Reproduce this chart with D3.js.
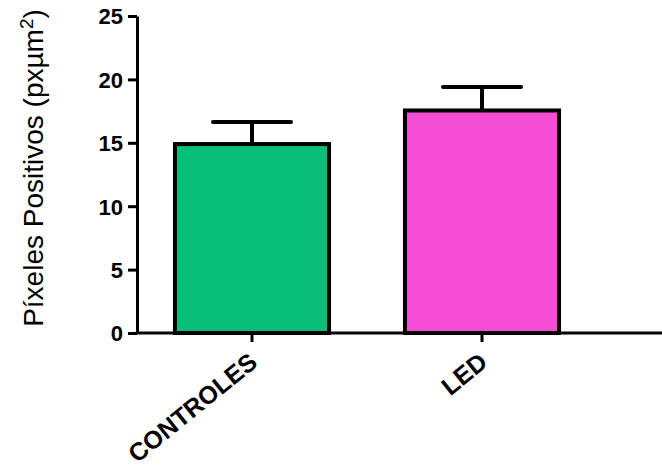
<!DOCTYPE html>
<html>
<head>
<meta charset="utf-8">
<script src="https://cdn.jsdelivr.net/npm/d3@7"></script>
<style>
  html, body { margin: 0; padding: 0; background: #fff; }
  svg { display: block; }
  text { font-family: Arial, "Liberation Sans", sans-serif; }
</style>
</head>
<body>
<div id="chart"></div>
<script>
// Group names, means and SEM of positive pixels
const categories = ["CONTROLES", "LED"];
const means = [14.9, 17.55];
const errors = [1.75, 1.85];
const barColors = ["#08bf7a", "#f54dd6"];
const yTicks = [0, 5, 10, 15, 20, 25];

const width = 662, height = 469;
const x0 = 137, yBottom = 333, yTop = 16;

const svg = d3.select("#chart").append("svg")
  .attr("width", width).attr("height", height);

const x = d3.scaleBand()
  .domain(categories)
  .range([x0, x0 + 460])
  .paddingInner(0.33)
  .paddingOuter(0.165);

const y = d3.scaleLinear().domain([0, 25]).range([yBottom, yTop]);

// Bars
const g = svg.append("g");
g.selectAll("rect.bar")
  .data(categories)
  .join("rect")
  .attr("class", "bar")
  .attr("x", d => x(d))
  .attr("y", (d, i) => y(means[i]))
  .attr("width", x.bandwidth())
  .attr("height", (d, i) => y(0) - y(means[i]))
  .attr("fill", (d, i) => barColors[i])
  .attr("stroke", "#000")
  .attr("stroke-width", 4);

// Error bars (upper only)
const capHalf = 39;
categories.forEach((c, i) => {
  const cx = x(c) + x.bandwidth() / 2;
  g.append("line")
    .attr("x1", cx).attr("x2", cx)
    .attr("y1", y(means[i])).attr("y2", y(means[i] + errors[i]))
    .attr("stroke", "#000").attr("stroke-width", 4);
  g.append("line")
    .attr("x1", cx - capHalf).attr("x2", cx + capHalf)
    .attr("y1", y(means[i] + errors[i])).attr("y2", y(means[i] + errors[i]))
    .attr("stroke", "#000").attr("stroke-width", 4).attr("stroke-linecap", "round");
});

// Y axis
const yAxis = svg.append("g")
  .attr("transform", `translate(${x0},0)`)
  .call(d3.axisLeft(y).tickValues(yTicks).tickSize(9).tickPadding(5).tickSizeOuter(0));
yAxis.select(".domain").attr("stroke", "#000").attr("stroke-width", 3);
yAxis.selectAll(".tick line").attr("stroke", "#000").attr("stroke-width", 3);
yAxis.selectAll(".tick text")
  .attr("font-size", 22).attr("font-weight", "bold").attr("fill", "#000")
  .attr("dy", "0.36em");

// X axis
const xAxis = svg.append("g")
  .attr("transform", `translate(0,${yBottom})`)
  .call(d3.axisBottom(x).tickSize(9).tickSizeOuter(0).tickFormat(""));
xAxis.select(".domain").remove();
xAxis.append("line")
  .attr("x1", x0 - 1.5).attr("x2", width).attr("y1", 0).attr("y2", 0)
  .attr("stroke", "#000").attr("stroke-width", 3);
xAxis.selectAll(".tick line").attr("stroke", "#000").attr("stroke-width", 3);
xAxis.selectAll(".tick").append("text")
  .attr("text-anchor", "end")
  .attr("transform", "translate(7,32) rotate(-39)")
  .attr("font-size", 25).attr("font-weight", "bold").attr("fill", "#000")
  .text(d => d);

// Y axis title
const title = svg.append("text")
  .attr("transform", `translate(43,168) rotate(-90)`)
  .attr("text-anchor", "middle")
  .attr("font-size", 28).attr("fill", "#000");
title.append("tspan").text("Píxeles Positivos (pxµm");
title.append("tspan").attr("baseline-shift", "super").attr("font-size", 19).text("2");
title.append("tspan").text(")");
</script>
</body>
</html>
